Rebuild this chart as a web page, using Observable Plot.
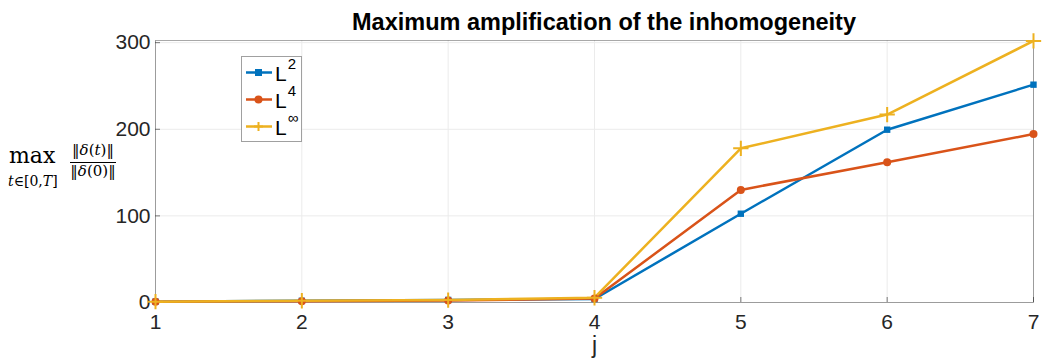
<!DOCTYPE html>
<html><head><meta charset="utf-8">
<script src="https://cdn.jsdelivr.net/npm/d3@7"></script>
<script src="https://cdn.jsdelivr.net/npm/@observablehq/plot@0.6"></script>
<style>
body{margin:0;background:#fff;}
#wrap{position:relative;width:1063px;height:360px;font-family:"Liberation Sans",Arial,sans-serif;}
#title{position:absolute;left:0;width:1063px;top:9px;text-align:center;font-weight:bold;font-size:23.5px;color:#000;padding-left:145px;box-sizing:border-box;}
#ylab{position:absolute;left:8px;top:140px;font-family:"DejaVu Serif","Liberation Serif",serif;color:#000;}
#legend{position:absolute;left:241px;top:56px;width:61px;height:86px;border:1px solid #a0a0a0;background:#fff;box-sizing:border-box;}
.lrow{position:absolute;left:3px;height:24px;}
.lrow svg{position:absolute;left:0;top:0;}
.lrow span{position:absolute;left:30px;top:-2px;font-size:21px;color:#000;white-space:nowrap;}
.lrow sup{font-size:15px;position:relative;top:-4px;margin-left:1px;}
</style></head>
<body><div id="wrap"><div id="title">Maximum amplification of the inhomogeneity</div><div id="chart"></div>
<div id="ylab">
 <div style="position:absolute;left:1px;top:3px;font-size:22px;">max</div>
 <div style="position:absolute;left:0px;top:33px;font-size:14px;white-space:nowrap;font-style:italic;">t<span style="font-style:normal">∈[0,</span>T<span style="font-style:normal">]</span></div>
 <div style="position:absolute;left:60px;top:1px;font-size:15px;white-space:nowrap;text-align:center;width:50px;">‖<i>δ</i>(<i>t</i>)‖</div>
 <div style="position:absolute;left:62px;top:22px;width:46px;border-top:1px solid #000;"></div>
 <div style="position:absolute;left:60px;top:22px;font-size:15px;white-space:nowrap;text-align:center;width:50px;">‖<i>δ</i>(0)‖</div>
</div>
<div id="legend"></div>
</div>
<script>
const jValues = [1, 2, 3, 4, 5, 6, 7];
const seriesNames = ["L2", "L4", "Linf"];
const L2 = [1, 2, 3, 4, 102.5, 199.5, 251.5];
const L4 = [1, 1.5, 2.2, 4.5, 130, 162, 194.5];
const Linf = [1, 2, 2.8, 5.5, 178, 217, 302];
const colors = ["#0072BD", "#D95319", "#EDB120"];
const yTicks = [0, 100, 200, 300];

const rows = [];
[L2, L4, Linf].forEach((arr, k) => arr.forEach((v, i) => rows.push({j: jValues[i], v, s: seriesNames[k]})));

const chart = Plot.plot({
  width: 1063, height: 360,
  marginLeft: 155, marginRight: 30, marginTop: 40, marginBottom: 58,
  style: {fontFamily: '"Liberation Sans",Arial,sans-serif', color: "#262626", background: "transparent"},
  x: {domain: [1, 7], ticks: jValues, label: null},
  y: {domain: [0, 302.5], ticks: yTicks, label: null},
  color: {domain: seriesNames, range: colors},
  marks: [
    Plot.gridX(jValues, {stroke: "#ebebeb", strokeOpacity: 1}),
    Plot.gridY(yTicks, {stroke: "#ebebeb", strokeOpacity: 1}),
    Plot.frame({stroke: "#262626", strokeOpacity: 0.4}),
    Plot.axisX({ticks: jValues, tickFormat: "d", tickSize: -5, tickPadding: 17, fontSize: 21, fill: "#262626", stroke: "#262626", strokeOpacity: 0.6}),
    Plot.axisY({ticks: yTicks, tickSize: -5, tickPadding: 10, fontSize: 21, fill: "#262626", stroke: "#262626", strokeOpacity: 0.6}),
    Plot.line(rows, {x: "j", y: "v", z: "s", stroke: "s", strokeWidth: 2.5}),
    Plot.dot(rows.filter(d => d.s === "L2"), {x: "j", y: "v", symbol: "square", r: 3.6, fill: colors[0]}),
    Plot.dot(rows.filter(d => d.s === "L4"), {x: "j", y: "v", symbol: "circle", r: 4, fill: colors[1]}),
    Plot.dot(rows.filter(d => d.s === "Linf"), {x: "j", y: "v", symbol: "plus", r: 5, stroke: colors[2], strokeWidth: 2}),
    Plot.text(["j"], {frameAnchor: "bottom", dy: 50, fontSize: 23, fill: "#262626"})
  ]
});
document.getElementById("chart").appendChild(chart);

const legendLabels = [["L", "2"], ["L", "4"], ["L", "∞"]];
const markerSvg = [
  '<rect x="10" y="8" width="7" height="7" fill="#0072BD"/>',
  '<circle cx="13.5" cy="11.5" r="4" fill="#D95319"/>',
  '<path d="M13.5 7v9M9 11.5h9" stroke="#EDB120" stroke-width="2"/>'
];
const lg = document.getElementById("legend");
legendLabels.forEach((l, i) => {
  const r = document.createElement("div");
  r.className = "lrow";
  r.style.top = (4 + i * 27) + "px";
  r.innerHTML = `<svg width="30" height="24"><line x1="1" y1="11.5" x2="27" y2="11.5" stroke="${colors[i]}" stroke-width="2.5"/>${markerSvg[i]}</svg><span>${l[0]}<sup>${l[1]}</sup></span>`;
  lg.appendChild(r);
});
</script></body></html>
